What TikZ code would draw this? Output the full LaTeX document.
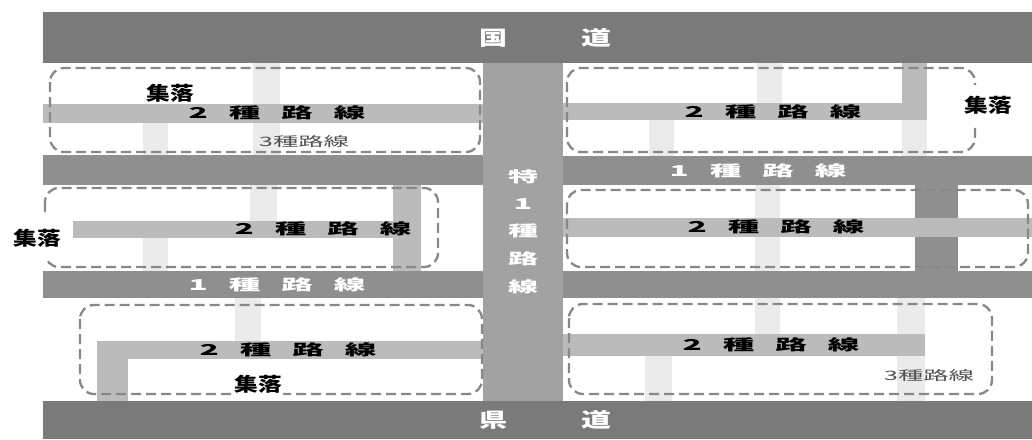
\documentclass[tikz,border=0pt]{standalone}
\usepackage{fontspec}
\usepackage{graphicx}
\newfontfamily\jp{Noto Sans CJK JP}
\definecolor{cMain}{HTML}{7A7A7A}
\definecolor{cOne}{HTML}{8F8F8F}
\definecolor{cSpecial}{HTML}{A2A2A2}
\definecolor{cBand}{HTML}{BBBBBB}
\definecolor{cPale}{HTML}{EBEBEB}
\definecolor{cDash}{HTML}{888888}
\definecolor{cThree}{HTML}{505050}
\newcommand{\gapped}[4]{#1\hspace{10pt}#2\hspace{10pt}#3\hspace{10pt}#4}
\newcommand{\widen}[2]{\scalebox{#1}[1]{#2}}
\begin{document}
\begin{tikzpicture}[x=1pt,y=-1pt,
  mainroad/.style={fill=cMain},
  oneroad/.style={fill=cOne},
  specialroad/.style={fill=cSpecial},
  twoband/.style={fill=cBand},
  threestrip/.style={fill=cPale},
  village/.style={draw=cDash,line width=2.3pt,dash pattern=on 10pt off 5pt,rounded corners=14pt},
  twolabel/.style={inner sep=0pt,text=black,font=\jp\bfseries\fontsize{15}{15}\selectfont},
  onelabel/.style={inner sep=0pt,text=white,font=\jp\bfseries\fontsize{15}{15}\selectfont},
  bigroadlabel/.style={inner sep=0pt,text=white,font=\jp\bfseries\fontsize{20}{20}\selectfont},
  threelabel/.style={inner sep=0pt,text=cThree,font=\jp\fontsize{13}{13}\selectfont},
  villagelabel/.style={inner xsep=1pt,inner ysep=0pt,fill=white,text=black,font=\jp\bfseries\fontsize{19}{19}\selectfont},
]
\useasboundingbox[fill=white] (0,0) rectangle (1032,439);
% main roads
\fill[mainroad] (43,12) rectangle (1032,63);
\fill[mainroad] (43,401) rectangle (1032,439);
% special road
\fill[specialroad] (483,63) rectangle (563,401);
% class 1 roads
\fill[oneroad] (43,155) rectangle (483,185);
\fill[oneroad] (43,271) rectangle (483,298);
\fill[oneroad] (563,156) rectangle (1032,185);
\fill[oneroad] (563,271) rectangle (1032,298);
\fill[oneroad] (915,184) rectangle (958,272);
% class 3 strips
\fill[threestrip] (253,63) rectangle (280,155);
\fill[threestrip] (143,123) rectangle (168,155);
\fill[threestrip] (757,63) rectangle (782,104);
\fill[threestrip] (649,120) rectangle (674,156);
\fill[threestrip] (902,120) rectangle (927,156);
\fill[threestrip] (250,185) rectangle (277,221);
\fill[threestrip] (143,238) rectangle (168,271);
\fill[threestrip] (755,185) rectangle (780,271);
\fill[threestrip] (235,298) rectangle (261,341);
\fill[threestrip] (755,298) rectangle (780,334);
\fill[threestrip] (897,298) rectangle (925,401);
\fill[threestrip] (645,356) rectangle (672,401);
% class 2 bands
\fill[twoband] (43,104) rectangle (483,123);
\fill[twoband] (563,103) rectangle (927,120);
\fill[twoband] (902,63) rectangle (927,120);
\fill[twoband] (73,221) rectangle (421,238);
\fill[twoband] (393,185) rectangle (421,271);
\fill[twoband] (563,218) rectangle (1032,237);
\fill[twoband] (97,341) rectangle (483,359);
\fill[twoband] (97,341) rectangle (128,401);
\fill[twoband] (563,334) rectangle (925,356);
% villages
\draw[village] (50,68) rectangle (480,152);
\draw[village] (567,68) rectangle (975,152);
\draw[village] (45,188) rectangle (438,267);
\draw[village] (567,190) rectangle (1028,267);
\draw[village] (80,305) rectangle (482,394);
\draw[village] (569,304) rectangle (992,394);
% main road labels
\node[bigroadlabel] (koku) at (493,38) {\widen{1.4}{国}};
\node[bigroadlabel] (doA) at (596,38) {\widen{1.5}{道}};
\node[bigroadlabel] (ken) at (493,420) {\widen{1.4}{県}};
\node[bigroadlabel] (doB) at (596,420) {\widen{1.5}{道}};
% special road label
\node[onelabel] (sp1) at (523,177) {\widen{2.0}{特}};
\node[onelabel] (sp2) at (523,204) {\widen{2.0}{1}};
\node[onelabel] (sp3) at (523,231) {\widen{2.0}{種}};
\node[onelabel] (sp4) at (523,259) {\widen{2.0}{路}};
\node[onelabel] (sp5) at (523,287) {\widen{2.0}{線}};
% class 1 labels
\node[onelabel] (oneL) at (277,285) {\widen{2.1}{\gapped{1}{種}{路}{線}}};
\node[onelabel] (oneR) at (758,171) {\widen{2.1}{\gapped{1}{種}{路}{線}}};
% class 2 labels
\node[twolabel] (twoTL) at (277,113) {\widen{2.1}{\gapped{2}{種}{路}{線}}};
\node[twolabel] (twoTR) at (773,112) {\widen{2.1}{\gapped{2}{種}{路}{線}}};
\node[twolabel] (twoML) at (323,229) {\widen{2.1}{\gapped{2}{種}{路}{線}}};
\node[twolabel] (twoMR) at (776,227) {\widen{2.1}{\gapped{2}{種}{路}{線}}};
\node[twolabel] (twoBL) at (288,350) {\widen{2.1}{\gapped{2}{種}{路}{線}}};
\node[twolabel] (twoBR) at (771,345) {\widen{2.1}{\gapped{2}{種}{路}{線}}};
% class 3 labels
\node[threelabel] (threeTL) at (304,142) {\widen{1.95}{3種路線}};
\node[threelabel] (threeBR) at (929,376) {\widen{1.95}{3種路線}};
% village labels
\node[villagelabel] (vTL) at (170,93) {\widen{1.25}{集落}};
\node[villagelabel,minimum height=40pt] (vTR) at (988,105) {\widen{1.25}{集落}};
\node[villagelabel,minimum height=44pt] (vML) at (37,238) {\widen{1.25}{集落}};
\node[villagelabel,minimum height=26pt] (vBL) at (258,384) {\widen{1.25}{集落}};
\end{tikzpicture}
\end{document}
